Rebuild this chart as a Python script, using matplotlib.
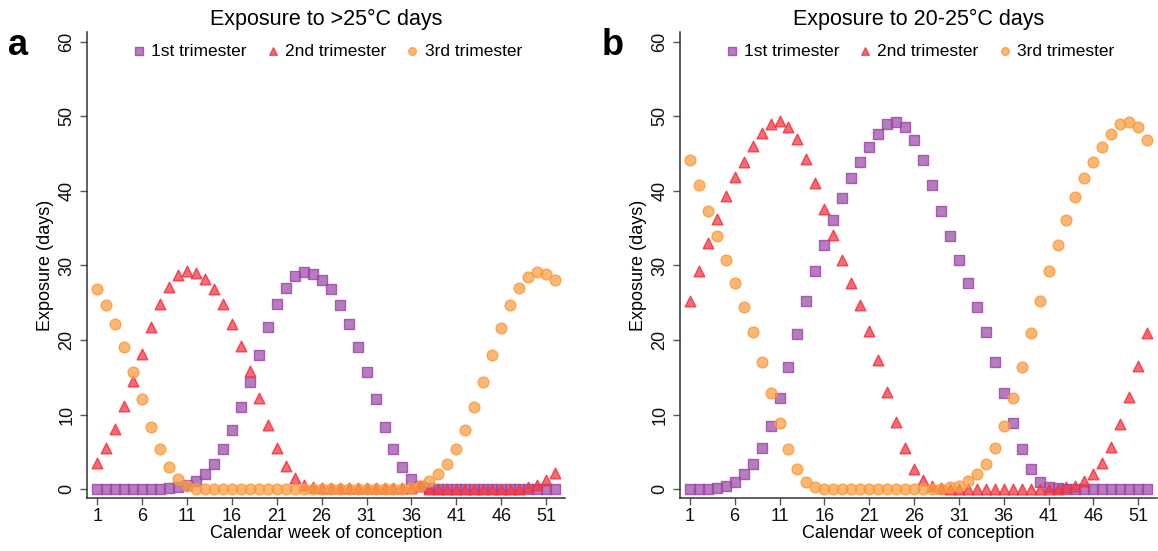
import matplotlib
matplotlib.use("Agg")
import matplotlib.pyplot as plt
from matplotlib.colors import to_rgba

plt.rcParams['font.family'] = ['Liberation Sans', 'DejaVu Sans']

weeks = list(range(1, 53))
week_ticks = [1, 6, 11, 16, 21, 26, 31, 36, 41, 46, 51]
day_ticks = [0, 10, 20, 30, 40, 50, 60]

# panel a: exposure to >25C days
hot_t1 = [0, 0, 0, 0, 0, 0, 0, 0.1, 0.2, 0.3, 0.6, 1.1, 2.0, 3.4, 5.4, 8.0, 11.1, 14.4,
          18.0, 21.7, 24.8, 27.0, 28.6, 29.1, 28.9, 28.1, 26.8, 24.7, 22.1, 19.1, 15.7,
          12.1, 8.4, 5.4, 3.0, 1.4, 0.5, 0.2, 0.1, 0.1, 0.1, 0.1, 0.1, 0.1, 0.1, 0.1,
          0.1, 0.1, 0.1, 0.1, 0.1, 0.1]
hot_t2 = [3.5, 5.5, 8.1, 11.2, 14.5, 18.2, 21.8, 24.8, 27.1, 28.7, 29.3, 29.0, 28.2,
          26.9, 24.8, 22.2, 19.2, 15.8, 12.2, 8.6, 5.5, 3.1, 1.5, 0.6, 0.3, 0.2, 0.2,
          0.2, 0.2, 0.2, 0.2, 0.2, 0.2, 0.2, 0.2, 0.2, 0.4, 0.1, 0.1, 0.1, 0.1, 0.1,
          0.1, 0.1, 0.1, 0.1, 0.1, 0.1, 0.3, 0.6, 1.3, 2.2]
hot_t3 = [26.8, 24.7, 22.1, 19.1, 15.7, 12.1, 8.4, 5.4, 3.0, 1.4, 0.5, 0.1, 0.1, 0.1,
          0.1, 0.1, 0.1, 0.1, 0.1, 0.1, 0.1, 0.1, 0.1, 0.1, 0.1, 0.1, 0.1, 0.1, 0.1,
          0.1, 0.1, 0.1, 0.1, 0.1, 0.1, 0.2, 0.5, 1.1, 2.0, 3.4, 5.4, 8.0, 11.1, 14.4,
          18.0, 21.6, 24.7, 27.0, 28.5, 29.1, 28.9, 28.1]

# panel b: exposure to 20-25C days
mild_t1 = [0, 0, 0.05, 0.2, 0.4, 1.0, 2.0, 3.4, 5.5, 8.5, 12.3, 16.4, 20.8, 25.2, 29.2,
           32.8, 36.1, 39.1, 41.7, 43.8, 45.9, 47.6, 48.9, 49.2, 48.5, 46.8, 44.1, 40.8,
           37.3, 34.0, 30.7, 27.6, 24.5, 21.1, 17.1, 12.9, 8.9, 5.4, 2.7, 1.0, 0.3, 0.2,
           0, 0, 0, 0, 0, 0, 0, 0, 0, 0]
mild_t2 = [25.2, 29.3, 33.0, 36.2, 39.3, 41.8, 43.9, 46.0, 47.7, 48.9, 49.3, 48.6, 46.9,
           44.2, 41.0, 37.5, 34.1, 30.8, 27.7, 24.7, 21.2, 17.3, 13.1, 9.0, 5.5, 2.8,
           1.2, 0.5, 0.2, 0, 0, 0, 0, 0, 0, 0, 0, 0, 0, 0, 0, 0.1, 0.3, 0.5, 1.1, 2.1,
           3.5, 5.7, 8.7, 12.4, 16.5, 21.0]
mild_t3 = [44.1, 40.8, 37.3, 34.0, 30.7, 27.6, 24.5, 21.1, 17.1, 12.9, 8.9, 5.4, 2.7,
           1.0, 0.3, 0, 0, 0, 0, 0, 0, 0, 0, 0, 0, 0, 0, 0, 0.1, 0.3, 0.5, 1.1, 2.0,
           3.4, 5.5, 8.5, 12.3, 16.4, 20.9, 25.2, 29.2, 32.8, 36.1, 39.2, 41.7, 43.8,
           45.9, 47.6, 48.9, 49.2, 48.5, 46.8]

labels = ['1st trimester', '2nd trimester', '3rd trimester']
colors = ['#9c4aa8', '#f2333f', '#fb9b3e']
markers = ['s', '^', 'o']
sizes = [52, 58, 60]


def draw_panel(ax, series, title, letter):
    for vals, lab, col, mk, sz in zip(series, labels, colors, markers, sizes):
        ax.scatter(weeks, vals, s=sz, marker=mk, label=lab,
                   facecolor=to_rgba(col, 0.72), edgecolor=to_rgba(col, 0.85),
                   linewidth=1.0, zorder=3)

    ax.set_xlim(-0.1, 53.1)
    ax.set_ylim(-1.15, 61.3)
    ax.set_xticks(week_ticks)
    ax.set_yticks(day_ticks)
    for side in ['top', 'right']:
        ax.spines[side].set_visible(False)
    for side in ['left', 'bottom']:
        ax.spines[side].set_color('#333333')
        ax.spines[side].set_linewidth(1.1)
    ax.tick_params(axis='both', direction='out', length=5, width=1,
                   color='#555555', labelsize=13, labelcolor='#111111')
    ax.tick_params(axis='x', pad=2.5)
    plt.setp(ax.get_yticklabels(), rotation=90, va='center')

    ax.set_xlabel('Calendar week of conception', fontsize=13, labelpad=0)
    ax.set_ylabel('Exposure (days)', fontsize=13, labelpad=3)
    ax.set_title(title, fontsize=15.5, pad=5)

    ax.legend(loc='upper center', bbox_to_anchor=(0.5, 1.005), ncol=3,
              frameon=False, fontsize=12.5, markerscale=0.7, handletextpad=0.2,
              columnspacing=1.0, handlelength=1.0, borderaxespad=0.4)
    ax.text(-0.165, 0.97, letter, transform=ax.transAxes, fontsize=26,
            fontweight='bold', va='center', ha='left')


fig = plt.figure(figsize=(11.58, 5.51), dpi=100)
ax_a = fig.add_axes([0.0754, 0.0962, 0.4125, 0.846])
ax_b = fig.add_axes([0.5872, 0.0962, 0.412, 0.846])

draw_panel(ax_a, [hot_t1, hot_t2, hot_t3], 'Exposure to >25°C days', 'a')
draw_panel(ax_b, [mild_t1, mild_t2, mild_t3], 'Exposure to 20-25°C days', 'b')

fig.savefig('out.png', dpi=100)
